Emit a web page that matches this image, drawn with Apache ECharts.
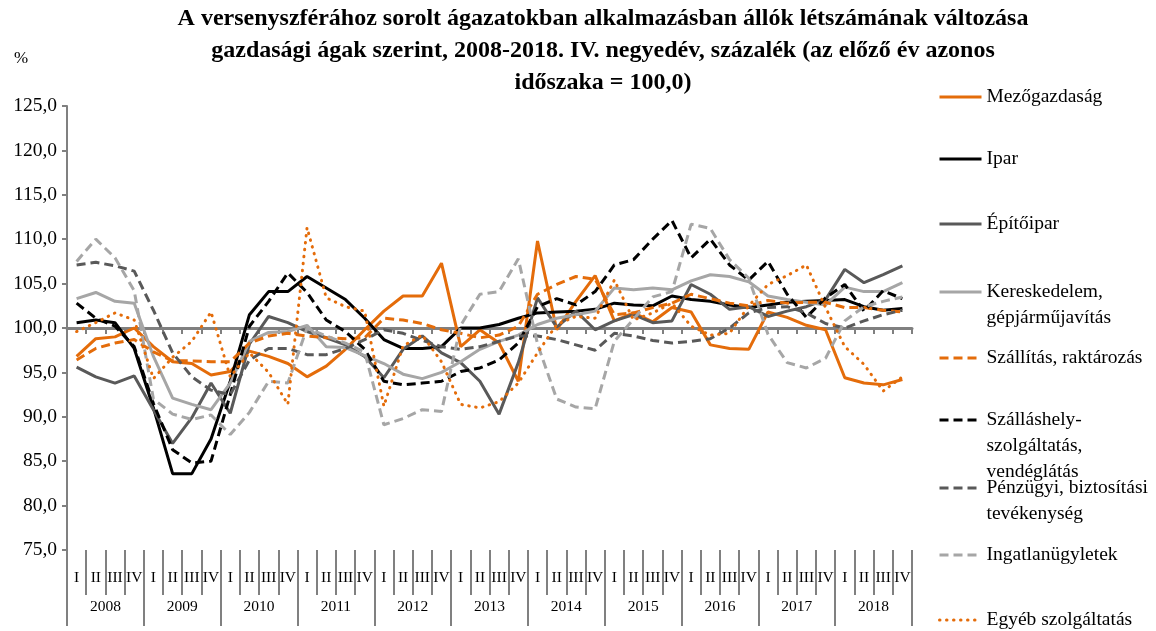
<!DOCTYPE html>
<html>
<head>
<meta charset="utf-8">
<script src="https://cdn.jsdelivr.net/npm/echarts@6/dist/echarts.min.js"></script>
<style>
html, body { margin: 0; padding: 0; background: #fff; }
#chart { width: 1156px; height: 631px; }
</style>
</head>
<body>
<div id="chart"></div>
<script>
// évek és negyedévek
var years = ['2008', '2009', '2010', '2011', '2012', '2013', '2014', '2015', '2016', '2017', '2018'];
var quarters = ['I', 'II', 'III', 'IV'];

// az előző év azonos időszaka = 100,0
var mezogazdasag = [96.8, 98.8, 99.0, 100.0, 97.9, 96.2, 96.0, 94.7, 95.1, 97.4, 96.8, 96.0, 94.5, 95.7, 97.6, 99.8, 101.9, 103.6, 103.6, 107.3, 97.9, 99.8, 98.3, 94.0, 109.8, 99.8, 103.0, 105.9, 100.8, 101.7, 100.7, 102.3, 101.8, 98.1, 97.7, 97.6, 101.8, 101.2, 100.3, 99.8, 94.4, 93.8, 93.6, 94.2];
var ipar = [100.6, 100.9, 100.6, 97.7, 91.0, 83.6, 83.6, 87.5, 94.0, 101.5, 104.1, 104.1, 105.8, 104.5, 103.2, 101.1, 98.7, 97.7, 97.7, 97.9, 100.0, 100.0, 100.4, 101.1, 101.7, 101.8, 101.9, 102.1, 102.8, 102.6, 102.5, 103.6, 103.2, 103.0, 102.6, 102.3, 102.6, 102.9, 103.0, 103.1, 103.2, 102.4, 102.0, 102.2];
var epitoipar = [95.6, 94.5, 93.8, 94.6, 90.8, 87.0, 89.9, 93.8, 90.4, 98.2, 101.3, 100.6, 99.6, 98.9, 98.1, 96.8, 94.4, 97.6, 99.1, 97.2, 96.1, 94.0, 90.3, 96.1, 103.4, 100.1, 101.9, 99.8, 100.8, 101.5, 100.6, 100.8, 104.9, 103.8, 102.1, 102.4, 101.3, 101.9, 102.4, 103.2, 106.6, 105.1, 106.0, 107.0];
var kereskedelem = [103.3, 104.0, 103.0, 102.8, 96.8, 92.1, 91.4, 90.8, 93.8, 98.5, 99.5, 99.6, 100.3, 97.9, 97.8, 96.9, 96.0, 94.8, 94.3, 95.0, 96.2, 97.6, 98.5, 99.2, 100.4, 101.1, 101.5, 101.9, 104.5, 104.3, 104.5, 104.3, 105.3, 106.0, 105.8, 105.2, 103.6, 103.2, 102.9, 102.6, 104.6, 104.1, 104.1, 105.1];
var szallitas = [96.4, 97.7, 98.3, 98.7, 97.3, 96.3, 96.3, 96.2, 96.2, 98.3, 99.1, 99.4, 99.1, 98.9, 98.8, 98.9, 101.1, 100.9, 100.5, 99.8, 99.4, 98.9, 99.2, 100.2, 103.8, 104.9, 105.8, 105.5, 101.5, 101.7, 102.3, 102.8, 103.8, 103.3, 102.8, 102.5, 103.1, 102.8, 102.9, 102.9, 102.3, 102.3, 102.0, 101.8];
var szallashely = [102.8, 101.1, 100.2, 97.9, 91.5, 86.3, 84.8, 85.0, 92.5, 100.2, 103.0, 106.2, 104.0, 100.9, 99.6, 97.6, 94.0, 93.6, 93.8, 94.0, 95.1, 95.5, 96.4, 98.3, 102.4, 103.3, 102.6, 104.1, 107.1, 107.7, 110.0, 112.1, 107.9, 110.0, 107.1, 105.4, 107.5, 103.8, 101.2, 103.4, 104.9, 101.9, 104.2, 103.3];
var penzugyi = [107.1, 107.4, 107.0, 106.4, 102.0, 97.2, 94.5, 93.0, 92.5, 96.4, 97.7, 97.7, 97.0, 97.0, 97.7, 98.7, 99.8, 99.4, 98.6, 97.9, 97.6, 97.9, 98.5, 99.1, 99.1, 98.7, 98.1, 97.5, 99.4, 99.1, 98.6, 98.3, 98.5, 98.8, 100.0, 101.7, 102.3, 102.4, 101.7, 100.5, 100.0, 100.8, 101.5, 102.0];
var ingatlan = [107.5, 110.0, 107.9, 104.2, 92.0, 90.3, 89.7, 90.2, 88.0, 90.5, 94.0, 93.8, 100.0, 99.1, 98.3, 97.3, 89.1, 89.8, 90.8, 90.6, 100.3, 103.8, 104.1, 107.8, 98.2, 92.0, 91.1, 90.9, 98.5, 101.0, 103.5, 104.1, 111.7, 111.2, 107.7, 105.6, 99.3, 96.1, 95.5, 96.6, 100.8, 102.4, 103.0, 103.5];
var egyeb = [99.6, 100.6, 101.7, 100.9, 94.3, 96.7, 98.5, 101.8, 94.5, 97.2, 95.0, 91.4, 111.3, 103.4, 102.4, 101.9, 91.2, 98.0, 99.2, 96.2, 91.4, 91.0, 91.7, 93.8, 97.2, 100.4, 101.3, 101.1, 105.4, 100.9, 101.7, 102.8, 100.2, 99.2, 99.4, 102.5, 104.9, 105.9, 107.1, 102.3, 97.9, 95.9, 92.9, 94.5];

var seriesNames = ['Mezőgazdaság', 'Ipar', 'Építőipar', 'Kereskedelem, gépjárműjavítás', 'Szállítás, raktározás',
    'Szálláshely-szolgáltatás, vendéglátás', 'Pénzügyi, biztosítási tevékenység', 'Ingatlanügyletek', 'Egyéb szolgáltatás'];
var legendLabels = ['Mezőgazdaság', 'Ipar', 'Építőipar', 'Kereskedelem,\ngépjárműjavítás', 'Szállítás, raktározás',
    'Szálláshely-\nszolgáltatás,\nvendéglátás', 'Pénzügyi, biztosítási\ntevékenység', 'Ingatlanügyletek', 'Egyéb szolgáltatás'];
var seriesData = [mezogazdasag, ipar, epitoipar, kereskedelem, szallitas, szallashely, penzugyi, ingatlan, egyeb];

var ORANGE = '#E46C0A', BLACK = '#000000', DARK = '#595959', LIGHT = '#A6A6A6';
var DASH = [9, 5], DOT = [0.5, 6.5];
var styles = [
    {color: ORANGE, type: 'solid'},
    {color: BLACK, type: 'solid'},
    {color: DARK, type: 'solid'},
    {color: LIGHT, type: 'solid'},
    {color: ORANGE, type: DASH},
    {color: BLACK, type: DASH},
    {color: DARK, type: DASH},
    {color: LIGHT, type: DASH},
    {color: ORANGE, type: DOT, cap: 'round'}
];

var FONT = 'Liberation Serif';
var AXIS = '#808080';

// rács
var gridTop = 106, gridBottom = 81, gridLeft = 67, gridRight = 244;
var plotH = 631 - gridTop - gridBottom;
var yMin = 75, yMax = 125;

var categories = [];
var quarterLabels = [];
years.forEach(function (y) {
    quarters.forEach(function (q) {
        categories.push(y + ' ' + q);
        quarterLabels.push(q);
    });
});

// jelmagyarázat: a vonal az első sorhoz igazodik (üres sorokkal felül)
var legendY = [97, 159, 224, 292, 358, 420, 488, 555, 620];
var LH = 26;
var legends = seriesNames.map(function (name, i) {
    var n = legendLabels[i].split('\n').length;
    var txt = new Array(n).join('\n') + legendLabels[i];
    return {
        data: [name],
        orient: 'vertical',
        left: 938,
        top: legendY[i] - LH * (2 * n - 1) / 2,
        padding: 0,
        itemWidth: 42,
        itemHeight: 14,
        selectedMode: false,
        itemStyle: {opacity: 0},
        lineStyle: {width: 3, cap: styles[i].cap || 'butt'},
        formatter: function () { return txt; },
        textStyle: {fontFamily: FONT, fontSize: 19.5, color: '#000', lineHeight: LH}
    };
});

var chart = echarts.init(document.getElementById('chart'));
var option = {
    animation: false,
    backgroundColor: '#fff',
    title: [{
        text: 'A versenyszférához sorolt ágazatokban alkalmazásban állók létszámának változása\ngazdasági ágak szerint, 2008-2018. IV. negyedév, százalék (az előző év azonos\nidőszaka = 100,0)',
        left: 603,
        top: 3,
        padding: 0,
        textAlign: 'center',
        textStyle: {fontFamily: FONT, fontSize: 24, fontWeight: 'bold', color: '#000', lineHeight: 32}
    }, {
        text: '%',
        left: 14,
        top: 50,
        padding: 0,
        textStyle: {fontFamily: FONT, fontSize: 17, fontWeight: 'normal', color: '#000'}
    }],
    legend: legends,
    grid: {left: gridLeft, right: gridRight, top: gridTop, bottom: gridBottom},
    xAxis: [{
        // 100,0-s vonal
        type: 'category',
        data: categories,
        position: 'bottom',
        offset: -plotH * (100 - yMin) / (yMax - yMin),
        axisLine: {lineStyle: {color: AXIS, width: 3}},
        axisTick: {show: true, length: 6, interval: 0, lineStyle: {color: AXIS, width: 2}},
        axisLabel: {show: false}
    }, {
        type: 'category',
        data: quarterLabels,
        position: 'bottom',
        axisLine: {show: false},
        axisTick: {show: true, length: 45, interval: 0, lineStyle: {color: AXIS, width: 2}},
        axisLabel: {interval: 0, margin: 20, fontFamily: FONT, fontSize: 15.5, color: '#000'}
    }, {
        type: 'category',
        data: years,
        position: 'bottom',
        axisLine: {show: false},
        axisTick: {show: true, length: 76, interval: 0, lineStyle: {color: AXIS, width: 2}},
        axisLabel: {interval: 0, margin: 49, fontFamily: FONT, fontSize: 15.5, color: '#000'}
    }],
    yAxis: {
        type: 'value',
        min: yMin,
        max: yMax,
        interval: 5,
        axisLine: {show: true, lineStyle: {color: AXIS, width: 2}},
        axisTick: {show: true, length: 5, lineStyle: {color: AXIS, width: 2}},
        splitLine: {show: false},
        axisLabel: {
            margin: 10, fontFamily: FONT, fontSize: 19.5, color: '#000',
            formatter: function (v) { return v.toFixed(1).replace('.', ','); }
        }
    },
    series: seriesData.map(function (d, i) {
        return {
            name: seriesNames[i],
            type: 'line',
            xAxisIndex: 0,
            data: d,
            symbol: 'none',
            color: styles[i].color,
            lineStyle: {color: styles[i].color, width: 3, type: styles[i].type, cap: styles[i].cap || 'butt'}
        };
    })
};
chart.setOption(option);
</script>
</body>
</html>
